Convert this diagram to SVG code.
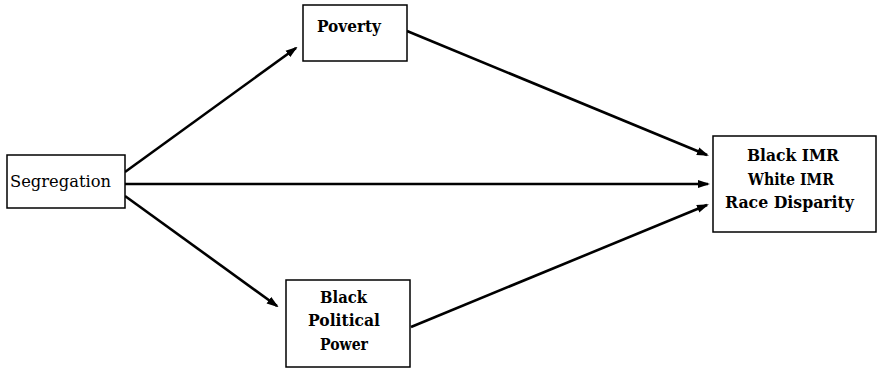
<svg xmlns="http://www.w3.org/2000/svg" width="878" height="368" viewBox="0 0 878 368">
<style>
.box{fill:#fff;stroke:#000;stroke-width:1.5}
.lbl{font-family:"DejaVu Serif","Liberation Serif",serif;font-size:16px;font-weight:bold;fill:#000;text-anchor:middle}
.plain{font-weight:normal}
.edge{stroke:#000;stroke-width:2.6;fill:none;marker-end:url(#ah)}
</style>
<defs>
<marker id="ah" markerWidth="12" markerHeight="10" refX="10" refY="5" orient="auto" markerUnits="userSpaceOnUse">
<path d="M0,1 L12,5 L0,9 Z" fill="#000"/>
</marker>
</defs>
<rect width="878" height="368" fill="#fff"/>
<g id="connectors">
<line class="edge" x1="125" y1="172" x2="296" y2="48"/>
<line class="edge" x1="125" y1="184" x2="708" y2="184"/>
<line class="edge" x1="125" y1="196" x2="277" y2="306"/>
<line class="edge" x1="407" y1="31" x2="707" y2="155"/>
<line class="edge" x1="411" y1="327" x2="707" y2="205"/>
</g>
<g id="segregation">
<rect class="box" x="7" y="155" width="118" height="53"/>
<text class="lbl plain" x="60.5" y="187" textLength="101" lengthAdjust="spacingAndGlyphs">Segregation</text>
</g>
<g id="poverty">
<rect class="box" x="303" y="5" width="104" height="56"/>
<text class="lbl" x="349" y="32" textLength="64" lengthAdjust="spacingAndGlyphs">Poverty</text>
</g>
<g id="political">
<rect class="box" x="286" y="280" width="124" height="87"/>
<text class="lbl" x="343.5" y="303" textLength="47" lengthAdjust="spacingAndGlyphs">Black</text>
<text class="lbl" x="344" y="326" textLength="72" lengthAdjust="spacingAndGlyphs">Political</text>
<text class="lbl" x="344" y="350" textLength="48" lengthAdjust="spacingAndGlyphs">Power</text>
</g>
<g id="outcome">
<rect class="box" x="713" y="136" width="163" height="96"/>
<text class="lbl" x="793" y="161" textLength="92" lengthAdjust="spacingAndGlyphs">Black IMR</text>
<text class="lbl" x="791" y="185" textLength="86" lengthAdjust="spacingAndGlyphs">White IMR</text>
<text class="lbl" x="789.5" y="208" textLength="129" lengthAdjust="spacingAndGlyphs">Race Disparity</text>
</g>
</svg>
